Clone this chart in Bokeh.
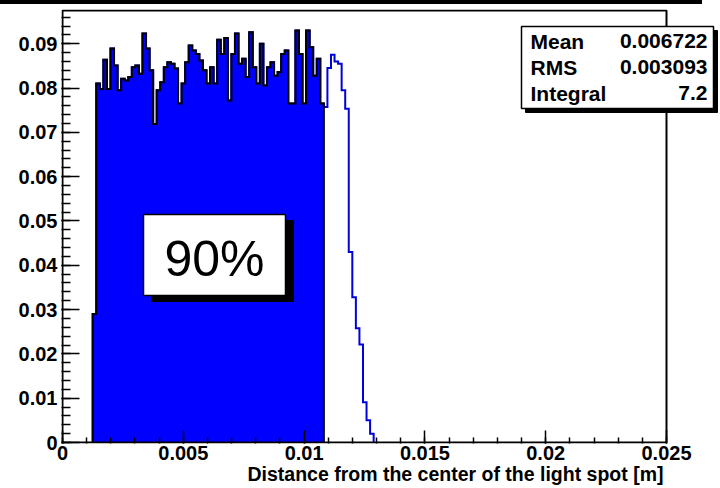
import numpy as np
from bokeh.plotting import figure
from bokeh.layouts import column
from bokeh.models import FixedTicker, BoxAnnotation, Label, Range1d, Title, Div
from bokeh.embed import file_html
from bokeh.resources import INLINE

# ---------------- data ----------------
bin_start = 0.00125
bin_width = 0.0001472
first_bin = [0.0290]
filled_vals = [
    0.0810, 0.0798, 0.0864, 0.0798, 0.0889, 0.0851, 0.0795, 0.0821, 0.0817, 0.0825,
    0.0847, 0.0851, 0.0832, 0.0923, 0.0889, 0.0840, 0.0719, 0.0795, 0.0813, 0.0847,
    0.0858, 0.0855, 0.0844, 0.0765, 0.0810, 0.0858, 0.0896, 0.0885, 0.0877, 0.0862,
    0.0840, 0.0810, 0.0847, 0.0810, 0.0909, 0.0877, 0.0913, 0.0772, 0.0877, 0.0923,
    0.0855, 0.0866, 0.0825, 0.0926, 0.0847, 0.0810, 0.0900, 0.0806, 0.0847, 0.0858,
    0.0828, 0.0836, 0.0877, 0.0885, 0.0765, 0.0765, 0.0930, 0.0877, 0.0765, 0.0930,
    0.0892, 0.0828, 0.0866, 0.0765]
tail_vals = [0.0757, 0.0845, 0.0875, 0.0860, 0.0855, 0.0795, 0.0753,
             0.0430, 0.0328, 0.0258, 0.0221, 0.0091, 0.0050, 0.0020]

x_ticks = [0.0, 0.005, 0.01, 0.015, 0.02, 0.025]
x_tick_labels = ["0", "0.005", "0.01", "0.015", "0.02", "0.025"]
y_ticks = [0.0, 0.01, 0.02, 0.03, 0.04, 0.05, 0.06, 0.07, 0.08, 0.09]
y_tick_labels = ["0", "0.01", "0.02", "0.03", "0.04", "0.05", "0.06", "0.07", "0.08", "0.09"]
x_title = "Distance from the center of the light spot [m]"
stats_names = ["Mean", "RMS", "Integral"]
stats_values = ["0.006722", "0.003093", "7.2"]
fraction_text = "90%"

X_MAX = 0.025
Y_MAX = 0.0975

# ---------------- layout (page pixels) ----------------
W, H = 720, 488
BAND_W, BAND_H = 702, 4      # cut-off title pave edge at the very top
X0_PX, X1_PX = 62, 666       # data 0 .. X_MAX
Y0_PX, Y1_PX = 442, 10       # data 0 .. Y_MAX
KX = X_MAX / (X1_PX - X0_PX)
KY = Y_MAX / (Y0_PX - Y1_PX)


def dx(px):
    return (px - X0_PX) * KX


def dy(py):
    return (Y0_PX - py) * KY


BL, BR, BB = 61, 0, 45
BT = 9 - BAND_H                 # frame spans page x 61..720, y 9..443
FIG_H = H - BAND_H

FONT = "Liberation Sans"
BASE_SHIFT = 0.39  # label anchor correction (fraction of font size)

# ---------------- histogram geometry ----------------
vals = np.array(first_bin + filled_vals + tail_vals)
n_fill = len(first_bin) + len(filled_vals)
edges = bin_start + bin_width * np.arange(len(vals) + 1)


def step_path(e, v):
    xs = np.repeat(e, 2)
    ys = np.concatenate([[0.0], np.repeat(v, 2), [0.0]])
    return xs, ys


band = Div(text="", width=BAND_W, height=BAND_H, margin=(0, 0, 0, 0),
           styles={"background-color": "black"})

fig = figure(width=W, height=FIG_H,
             x_range=Range1d(dx(BL), dx(W - BR)), y_range=Range1d(dy(H - BB), dy(9)),
             toolbar_location=None, output_backend="svg",
             min_border_left=BL, min_border_right=BR, min_border_top=BT,
             min_border_bottom=BB)
fig.outline_line_color = None
fig.grid.visible = False
fig.background_fill_color = "white"
fig.border_fill_color = "white"

xs_all, ys_all = step_path(edges, vals)
xs_f, ys_f = step_path(edges[:n_fill + 1], vals[:n_fill])

fig.patch(xs_f, ys_f, fill_color="#0000ff", line_color=None)
fig.line(xs_all, ys_all, line_color="#0000dd", line_width=2, line_join="miter")
fig.line(xs_f, ys_f, line_color="black", line_width=2, line_join="miter")

# frame of the histogram
fig.quad(left=0, right=X_MAX, bottom=0, top=Y_MAX, fill_color=None,
         line_color="black", line_width=2)


def label(px, base_py, text, size, align="left", bold=True):
    return Label(x=dx(px), y=dy(base_py - BASE_SHIFT * size), text=text,
                 text_align=align, text_baseline="alphabetic", text_font=FONT,
                 text_font_style="bold" if bold else "normal",
                 text_font_size=f"{size}px", text_color="black")


# 90% pave
bx0, bx1, by0, by1 = 143, 285, 214, 295
fig.quad(left=dx(bx0 + 8), right=dx(bx1 + 8), top=dy(by0 + 6), bottom=dy(by1 + 6),
         fill_color="black", line_color="black")
fig.quad(left=dx(bx0), right=dx(bx1), top=dy(by0), bottom=dy(by1),
         fill_color="white", line_color="black", line_width=1.5)
fig.add_layout(label((bx0 + bx1) / 2, 278, fraction_text, 50, align="center", bold=False))

# axes
for ax in (fig.xaxis, fig.yaxis):
    ax.axis_line_color = None
    ax.major_tick_out = 0
    ax.minor_tick_out = 0
    ax.major_tick_line_width = 1.5
    ax.minor_tick_line_width = 1.5
    ax.major_tick_line_color = "black"
    ax.minor_tick_line_color = "black"
    ax.major_label_text_font = FONT
    ax.major_label_text_font_style = "bold"
    ax.major_label_text_font_size = "20px"
    ax.major_label_text_color = "black"

fig.xaxis.ticker = FixedTicker(ticks=x_ticks,
                               minor_ticks=[round(i * 0.001, 6) for i in range(26)])
fig.xaxis.major_label_overrides = dict(zip(x_ticks, x_tick_labels))
fig.xaxis.major_tick_in = 13
fig.xaxis.minor_tick_in = 6
fig.xaxis.major_label_standoff = 2

fig.yaxis.ticker = FixedTicker(ticks=y_ticks,
                               minor_ticks=[round(i * 0.002, 6) for i in range(49)])
fig.yaxis.major_label_overrides = dict(zip(y_ticks, y_tick_labels))
fig.yaxis.major_tick_in = 18
fig.yaxis.minor_tick_in = 9
fig.yaxis.major_label_standoff = 4

# x-axis title, right aligned at the end of the axis
fig.add_layout(Title(text=x_title, align="right", offset=57, standoff=0,
                     vertical_align="top",
                     text_font=FONT, text_font_style="bold", text_font_size="19.5px",
                     text_color="black"), "below")

# stats box
sx0, sx1, sy0, sy1 = 521, 713, 26, 108
fig.add_layout(BoxAnnotation(left=dx(sx0 + 4), right=dx(sx1 + 4), top=dy(sy0 + 4),
                             bottom=dy(sy1 + 4), fill_color="black", fill_alpha=1,
                             line_color="black", line_alpha=1))
fig.add_layout(BoxAnnotation(left=dx(sx0), right=dx(sx1), top=dy(sy0), bottom=dy(sy1),
                             fill_color="white", fill_alpha=1, line_color="black",
                             line_alpha=1, line_width=1.5))
for i, (nm, vv) in enumerate(zip(stats_names, stats_values)):
    base = 49 + 26 * i
    fig.add_layout(label(sx0 + 9, base, nm, 21, align="left"))
    fig.add_layout(label(sx1 - 6, base, vv, 21, align="right"))

p = column(band, fig, spacing=0)
open("out.html", "w").write(file_html(p, INLINE))
